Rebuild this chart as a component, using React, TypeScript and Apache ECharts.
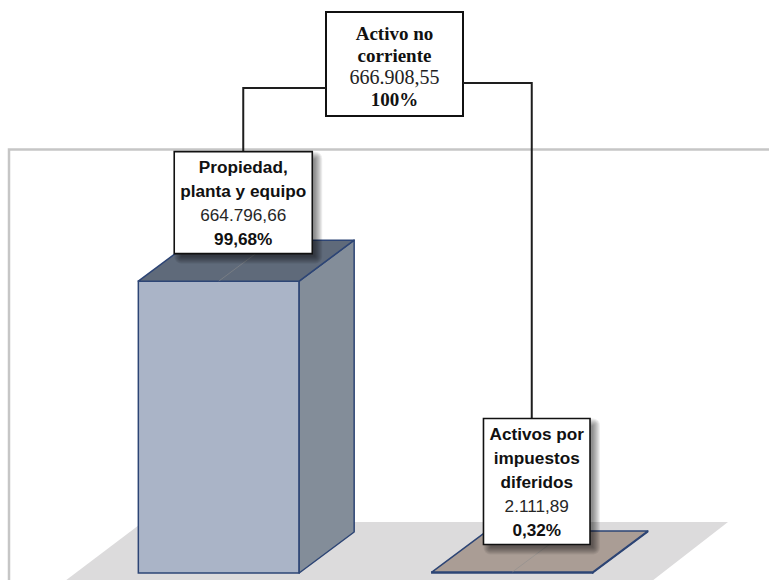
import React, { useEffect, useRef } from "react";
import * as echarts from "echarts";

// ---- data ----
const categories: string[] = ["Propiedad,\nplanta y equipo", "Activos por\nimpuestos\ndiferidos"];
const values: number[] = [664796.66, 2111.89];
const totalName: string[] = ["Activo no", "corriente"];
const totalValue = 666908.55;

// ---- helpers ----
const fmt = (v: number) => {
  const [i, d] = v.toFixed(2).split(".");
  return i.replace(/\B(?=(\d{3})+(?!\d))/g, ".") + "," + d;
};
const pct = (v: number) => {
  const p = (v / totalValue) * 100;
  if (Math.abs(p - Math.round(p)) < 1e-9) return Math.round(p) + "%";
  return p.toFixed(2).replace(".", ",") + "%";
};

// ---- layout / styles ----
const TOP_BOX = { x: 326, y: 12, w: 137, h: 104 };
const DEPTH_X = 55;
const DEPTH_Y = -41;
const BAR_RATIO = 0.548;
const LINE_H = 24;
const PAD_V = 3;
const PAD_H = 6;
const FONT_SIZE = 17.2;
const faceColors = [
  { front: "#aab4c7", side: "#838d99", top: "#5f6a7a" },
  { front: "#a99c94", side: "#8c8079", top: "#aa9d95" },
];
const EDGE = "#2d4575";
const SANS = "'Liberation Sans', Arial, sans-serif";
const SERIF = "'Liberation Serif', 'Times New Roman', serif";

let measureCtx: CanvasRenderingContext2D | null = null;
const measure = (text: string, font: string) => {
  if (!measureCtx) measureCtx = document.createElement("canvas").getContext("2d");
  if (!measureCtx) return text.length * 9;
  measureCtx.font = font;
  return measureCtx.measureText(text).width;
};

export default function App() {
  const ref = useRef<HTMLDivElement>(null);

  useEffect(() => {
    if (!ref.current) return;
    const chart = echarts.init(ref.current, undefined, { renderer: "svg" });

    const renderItem = (params: any, api: any) => {
      const idx = api.value(0);
      const val = api.value(1);
      const base = api.coord([idx, 0]);
      const top = api.coord([idx, val]);
      const bw = api.size([1, 0])[0] * BAR_RATIO;
      const x0 = base[0] - bw / 2;
      const x1 = base[0] + bw / 2;
      const yb = base[1];
      const yt = top[1];
      const c = faceColors[params.dataIndex % faceColors.length];

      const name = categories[params.dataIndex];
      const nameLines = name.split("\n");
      const valText = fmt(val);
      const pctText = pct(val);
      const nLines = nameLines.length + 2;
      const boldFont = `bold ${FONT_SIZE}px ${SANS}`;
      const normFont = `${FONT_SIZE}px ${SANS}`;
      const textW = Math.max(
        ...nameLines.map((l) => measure(l, boldFont)),
        measure(valText, normFont),
        measure(pctText, boldFont)
      );
      const boxW = textW + PAD_H * 2;
      const boxH = nLines * LINE_H + PAD_V * 2;
      const cx = base[0] + DEPTH_X / 2 - 3;
      const boxBottom = yt + DEPTH_Y / 2 - 7;
      const boxTop = boxBottom - boxH;
      const bx = cx - boxW / 2;

      const leftSide = cx < TOP_BOX.x + TOP_BOX.w / 2;
      const connY = leftSide ? 88 : 83;
      const edgeX = leftSide ? TOP_BOX.x : TOP_BOX.x + TOP_BOX.w;
      const connX = leftSide ? cx : cx - 5;

      const richText =
        nameLines.map((l) => `{b|${l}}`).join("\n") + `\n{n|${valText}}\n{b|${pctText}}`;

      // soft shadow made of stacked translucent rects
      const shadow: any[] = [];
      for (let k = 7; k >= 0; k--) {
        shadow.push({
          type: "rect",
          shape: {
            x: bx + 5 - k + 2,
            y: boxTop + 5 - k + 2,
            width: boxW + 2 * k - 4,
            height: boxH + 2 * k - 4,
            r: k,
          },
          style: { fill: "rgba(0,0,0,0.065)" },
        });
      }

      return {
        type: "group",
        children: [
          {
            type: "rect",
            shape: { x: x0, y: yt, width: bw, height: Math.max(yb - yt, 0.5) },
            style: { fill: c.front, stroke: EDGE, lineWidth: 1.5 },
          },
          {
            type: "polygon",
            shape: {
              points: [
                [x1, yt],
                [x1 + DEPTH_X, yt + DEPTH_Y],
                [x1 + DEPTH_X, yb + DEPTH_Y],
                [x1, yb],
              ],
            },
            style: { fill: c.side, stroke: EDGE, lineWidth: 1.5, lineJoin: "round" },
          },
          {
            type: "polygon",
            shape: {
              points: [
                [x0, yt],
                [x1, yt],
                [x1 + DEPTH_X, yt + DEPTH_Y],
                [x0 + DEPTH_X, yt + DEPTH_Y],
              ],
            },
            style: { fill: c.top, stroke: EDGE, lineWidth: 1.5, lineJoin: "round" },
          },
          {
            type: "line",
            shape: { x1: base[0], y1: yt, x2: base[0] + DEPTH_X, y2: yt + DEPTH_Y },
            style: { stroke: "rgba(140,140,140,0.55)", lineWidth: 1 },
          },
          {
            type: "polyline",
            shape: {
              points: [
                [connX, boxTop],
                [connX, connY],
                [edgeX, connY],
              ],
            },
            style: { stroke: "#1e1e1e", lineWidth: 2, fill: "none" },
          },
          ...shadow,
          {
            type: "rect",
            shape: { x: bx, y: boxTop, width: boxW, height: boxH },
            style: { fill: "#ffffff", stroke: "#111111", lineWidth: 1.6 },
          },
          {
            type: "text",
            x: cx,
            y: boxTop + PAD_V,
            style: {
              text: richText,
              align: "center",
              verticalAlign: "top",
              rich: {
                b: {
                  fontFamily: SANS,
                  fontWeight: "bold",
                  fontSize: FONT_SIZE,
                  lineHeight: LINE_H,
                  fill: "#111",
                  color: "#111",
                  align: "center",
                },
                n: {
                  fontFamily: SANS,
                  fontWeight: "normal",
                  fontSize: FONT_SIZE,
                  lineHeight: LINE_H,
                  fill: "#262626",
                  color: "#262626",
                  align: "center",
                },
              },
            },
          },
        ],
      };
    };

    chart.setOption({
      animation: false,
      backgroundColor: "#ffffff",
      grid: { left: 72, width: 587, top: 134, height: 439 },
      xAxis: { type: "category", data: categories, show: false },
      yAxis: { type: "value", min: 0, max: 1000000, show: false },
      graphic: [
        {
          type: "polygon",
          z: -10,
          shape: {
            points: [
              [143, 522],
              [728, 522],
              [652, 581],
              [65, 581],
            ],
          },
          style: { fill: "#dcdbdc" },
        },
        {
          type: "polyline",
          z: -10,
          shape: {
            points: [
              [9, 581],
              [9, 149.5],
              [769, 149.5],
            ],
          },
          style: { stroke: "#c6c6c6", lineWidth: 2.5, fill: "none" },
        },
        {
          type: "group",
          z: 100,
          children: [
            {
              type: "rect",
              shape: { x: TOP_BOX.x, y: TOP_BOX.y, width: TOP_BOX.w, height: TOP_BOX.h },
              style: { fill: "#ffffff", stroke: "#111111", lineWidth: 2 },
            },
            {
              type: "text",
              x: TOP_BOX.x + TOP_BOX.w / 2,
              y: TOP_BOX.y + 10,
              style: {
                text:
                  totalName.map((l) => `{b|${l}}`).join("\n") +
                  `\n{n|${fmt(totalValue)}}\n{b|${pct(totalValue)}}`,
                align: "center",
                verticalAlign: "top",
                rich: {
                  b: {
                    fontFamily: SERIF,
                    fontWeight: "bold",
                    fontSize: 19,
                    lineHeight: 22,
                    fill: "#111",
                    color: "#111",
                    align: "center",
                  },
                  n: {
                    fontFamily: SERIF,
                    fontWeight: "normal",
                    fontSize: 20,
                    lineHeight: 22,
                    fill: "#222",
                    color: "#222",
                    align: "center",
                  },
                },
              },
            },
          ],
        },
      ],
      series: [
        {
          type: "custom",
          renderItem,
          data: values.map((v, i) => [i, v]),
          encode: { x: 0, y: 1 },
          clip: false,
        },
      ],
    });

    return () => chart.dispose();
  }, []);

  return (
    <div
      ref={ref}
      style={{ position: "fixed", left: 0, top: 0, width: 769, height: 580 }}
    />
  );
}
